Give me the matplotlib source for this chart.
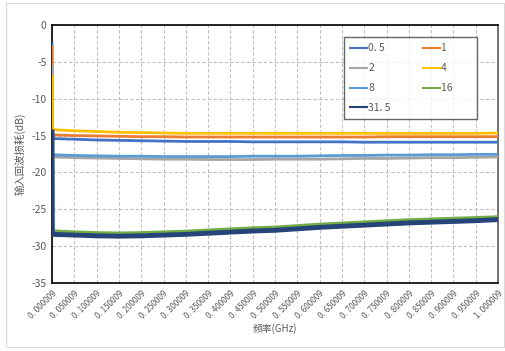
import matplotlib
matplotlib.use("Agg")
import matplotlib.pyplot as plt
from matplotlib.patches import Rectangle

plt.rcParams['font.family'] = ['Noto Sans CJK SC', 'DejaVu Sans']
plt.rcParams['axes.unicode_minus'] = False

freq = [0.000009, 0.000634, 0.050009, 0.100009, 0.150009, 0.200009, 0.250009, 0.300009,
        0.350009, 0.400009, 0.450009, 0.500009, 0.550009, 0.600009, 0.650009, 0.700009,
        0.750009, 0.800009, 0.850009, 0.900009, 0.950009, 1.000009]

s_05 = [-2.5, -15.4, -15.5, -15.6, -15.65, -15.7, -15.75, -15.8, -15.8, -15.8, -15.85, -15.85,
        -15.85, -15.85, -15.85, -15.9, -15.9, -15.9, -15.9, -15.9, -15.9, -15.9]
s_1 = [-3.0, -14.9, -15.0, -15.05, -15.1, -15.15, -15.15, -15.2, -15.2, -15.2, -15.2, -15.2,
       -15.2, -15.2, -15.2, -15.2, -15.15, -15.15, -15.15, -15.15, -15.15, -15.15]
s_2 = [-5.7, -17.9, -18.0, -18.05, -18.1, -18.15, -18.2, -18.2, -18.25, -18.25, -18.25, -18.2,
       -18.2, -18.2, -18.15, -18.1, -18.1, -18.05, -18.0, -18.0, -17.95, -17.9]
s_4 = [-7.0, -14.2, -14.35, -14.45, -14.55, -14.6, -14.65, -14.7, -14.7, -14.7, -14.7, -14.7,
       -14.7, -14.7, -14.7, -14.7, -14.7, -14.7, -14.7, -14.7, -14.7, -14.65]
s_8 = [-15.0, -17.6, -17.7, -17.75, -17.8, -17.8, -17.85, -17.85, -17.85, -17.85, -17.8, -17.8,
       -17.8, -17.75, -17.7, -17.7, -17.65, -17.65, -17.6, -17.6, -17.55, -17.55]
s_16 = [-14.6, -28.0, -28.15, -28.25, -28.3, -28.25, -28.15, -28.05, -27.9, -27.75, -27.6, -27.5,
        -27.3, -27.1, -26.95, -26.8, -26.65, -26.5, -26.4, -26.3, -26.2, -26.1]
s_315 = [-14.5, -28.4, -28.5, -28.6, -28.65, -28.6, -28.5, -28.4, -28.25, -28.1, -27.95, -27.85,
         -27.65, -27.45, -27.3, -27.15, -27.0, -26.85, -26.75, -26.65, -26.55, -26.4]

series = [("0. 5", s_05, "#4472C4", 2.0), ("1", s_1, "#ED7D31", 2.0), ("2", s_2, "#A5A5A5", 2.0),
          ("4", s_4, "#FFC000", 2.0), ("8", s_8, "#5B9BD5", 2.0), ("16", s_16, "#70AD47", 3.0),
          ("31. 5", s_315, "#264478", 3.5)]

xticks = [i * 0.05 + 0.000009 for i in range(21)]
xticklabels = ["%d. %06d" % (int(t), round((t - int(t)) * 1e6)) for t in xticks]
xticklabels[-1] = "1. 000009"
yticks = [0, -5, -10, -15, -20, -25, -30, -35]

fig = plt.figure(figsize=(5.06, 3.51), dpi=100)
fig.patches.append(Rectangle((0.012, 0.01), 0.985, 0.982, transform=fig.transFigure,
                             fill=False, edgecolor="#D9D9D9", linewidth=0.8))
ax = fig.add_axes([0.1028, 0.1937, 0.8814, 0.7351])

handles = []
for name, vals, col, lw in series:
    h, = ax.plot(freq, vals, color=col, lw=lw, label=name, solid_joinstyle="round", zorder=3)
    handles.append(h)

ax.set_xlim(0.000009, 1.000009)
ax.set_ylim(-35, 0)
ax.set_xticks(xticks)
ax.set_xticklabels(xticklabels, rotation=45, ha="right", rotation_mode="anchor",
                   fontsize=5.8, color="#595959")
ax.set_yticks(yticks)
ax.set_yticklabels([str(v) for v in yticks], fontsize=7.5, color="#595959")
ax.tick_params(length=0, pad=4)
ax.grid(True, color="#BFBFBF", linestyle=(0, (3, 2)), linewidth=0.8)
for sp in ax.spines.values():
    sp.set_color("#000000")
    sp.set_linewidth(1.2)
ax.spines["right"].set_color("#595959")

ax.set_xlabel("频率(GHz)", fontsize=7, color="#595959", labelpad=2)
ax.set_ylabel("输入回波损耗(dB)", fontsize=7.5, color="#595959", labelpad=4)

# legend row-major: reorder for column filling
order = [0, 2, 4, 6, 1, 3, 5]
labels = [series[i][0] for i in order]
labels = [l if i < 4 else l + "        " for i, l in enumerate(labels)]
leg = ax.legend([handles[i] for i in order], labels,
                loc="upper left", bbox_to_anchor=(0.655, 0.953),
                borderaxespad=0,
                ncol=2, fontsize=7.5, frameon=True, fancybox=False, edgecolor="#404040",
                handlelength=1.6, handletextpad=0.1, labelspacing=0.95, borderpad=0.6,
                columnspacing=3.1)
leg.get_frame().set_linewidth(1.0)
leg.set_zorder(5)
for t in leg.get_texts():
    t.set_color("#595959")
for l in leg.get_lines():
    l.set_linewidth(1.5)

fig.savefig("out.png", dpi=100, facecolor="white")
